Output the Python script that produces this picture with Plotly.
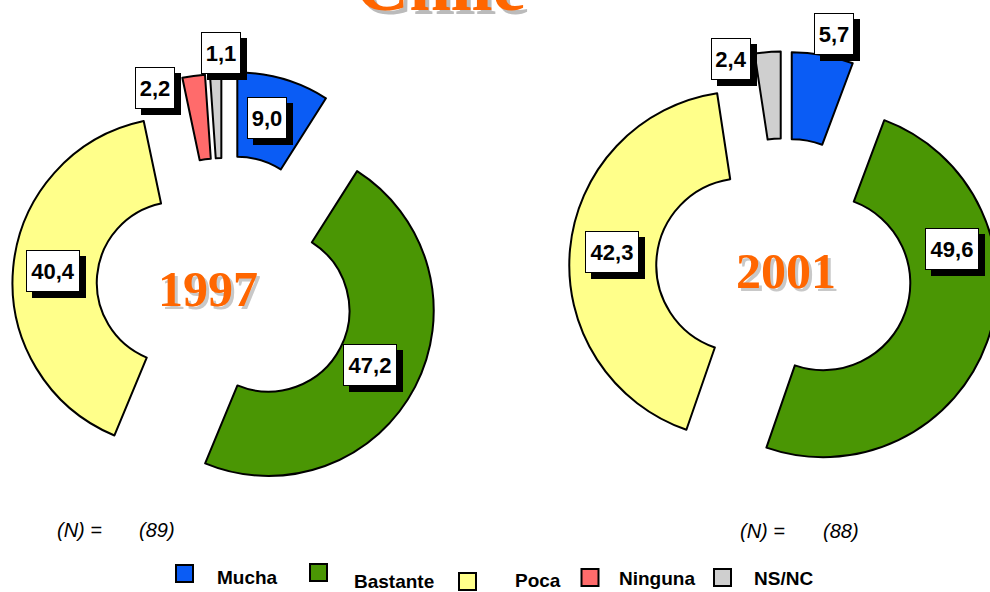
import math
import plotly.graph_objects as go

# categories and series
labels = ["Mucha", "Bastante", "Poca", "Ninguna", "NS/NC"]
values_1997 = [9.0, 47.2, 40.4, 2.2, 1.1]
values_2001 = [5.7, 49.6, 42.3, 0.0, 2.4]
n_1997 = 89
n_2001 = 88
title_text = "Chile"

colors = ["#0A5CF5", "#4A9604", "#FFFF8A", "#FF6B6B", "#CFCFCF"]

# figure is a bit wider than the 990px window; the right part is cut like the original
W, H = 1010, 592


def px_x(x):
    return x / W


def px_y(y):
    return 1 - y / H


# layout of each donut (pixel centre, half box, pulls) and label placement
pies = [
    dict(year="1997", values=values_1997, n=n_1997, cx=223, cy=287, half=216.5, hole=0.49,
         pull=[0.31, 0.31, 0.275, 0.29, 0.29],
         lab_rf=[1.054, 1.008, 1.036, 1.275, 1.416], lab_da=[-1.68, 0.42, 0.04, -11.03, 1.49],
         year_xy=(208, 289), n_xy=[(79, 530), (157, 530)]),
    dict(year="2001", values=values_2001, n=n_2001, cx=784, cy=269, half=217.5, hole=0.5,
         pull=[0.25, 0.24, 0.235, 0.0, 0.25],
         lab_rf=[1.38, 0.974, 0.995, None, 1.247], lab_da=[1.74, -26.66, 0.25, None, -9.74],
         year_xy=(786, 271), n_xy=[(762, 531), (841, 531)]),
]

fig = go.Figure()
annotations = []

lab_font = dict(family="Liberation Sans, Arial", size=22, color="black", weight="bold")

for p in pies:
    keep = [i for i, v in enumerate(p["values"]) if v > 0]
    vals = [p["values"][i] for i in keep]
    pulls = [p["pull"][i] for i in keep]
    fig.add_trace(go.Pie(
        labels=[labels[i] for i in keep],
        values=vals,
        marker=dict(colors=[colors[i] for i in keep], line=dict(color="black", width=2)),
        hole=p["hole"],
        pull=pulls,
        sort=False,
        direction="clockwise",
        rotation=0,
        textinfo="none",
        hoverinfo="label+value",
        showlegend=False,
        domain=dict(x=[max(0, px_x(p["cx"] - p["half"])), min(1, px_x(p["cx"] + p["half"]))],
                    y=[max(0, px_y(p["cy"] + p["half"])), min(1, px_y(p["cy"] - p["half"]))]),
    ))

    # value labels in boxes with a drop shadow
    r = p["half"] / (1 + max(pulls))
    total = sum(vals)
    start = 0
    for i in keep:
        v = p["values"][i]
        span = v / total * 360
        mid = start + span / 2
        start += span
        ang = math.radians(mid + p["lab_da"][i])
        dist = p["lab_rf"][i] * r
        x = p["cx"] + dist * math.sin(ang)
        y = p["cy"] - dist * math.cos(ang)
        txt = f"{v:.1f}".replace(".", ",")
        w = 14 * len(txt) - 4
        for shadow in (True, False):
            annotations.append(dict(
                x=px_x(x), y=px_y(y), xref="paper", yref="paper", text=txt, showarrow=False,
                xanchor="center", yanchor="middle",
                font=lab_font, bgcolor="black" if shadow else "white",
                bordercolor="black", borderwidth=1, borderpad=0, width=w, height=40,
                xshift=6 if shadow else 0, yshift=-6 if shadow else 0,
            ))

    # year in the hole
    yx, yy = p["year_xy"]
    for shadow in (True, False):
        annotations.append(dict(
            x=px_x(yx), y=px_y(yy), xref="paper", yref="paper", text=p["year"], showarrow=False,
            xanchor="center", yanchor="middle",
            font=dict(family="Liberation Serif, Times New Roman", size=50, weight="bold",
                      color="#C8C8C8" if shadow else "#FF6600"),
            xshift=3 if shadow else 0, yshift=-3 if shadow else 0,
        ))

    # sample size
    for (nx, ny), txt in zip(p["n_xy"], ["(N) =", f"({p['n']})"]):
        annotations.append(dict(
            x=px_x(nx), y=px_y(ny), xref="paper", yref="paper", text=txt, showarrow=False,
            xanchor="center", yanchor="middle",
            font=dict(family="Liberation Sans, Arial", size=20, color="black", style="italic"),
        ))

# title, only its lower part is visible
for shadow in (True, False):
    annotations.append(dict(
        x=px_x(440), y=px_y(28), xref="paper", yref="paper", text=title_text, showarrow=False,
        xanchor="center", yanchor="bottom",
        font=dict(family="Liberation Serif, Times New Roman", size=75, weight="bold",
                  color="#BBBBBB" if shadow else "#FF6600"),
        xshift=4 if shadow else 0, yshift=-4 if shadow else 0,
    ))

# custom legend
leg_sq = [(184.5, 573.5), (318.5, 572.5), (467.5, 581.5), (590, 577.5), (722.5, 577.5)]
leg_tx = [(215, 577), (352, 581), (513, 580), (617, 578), (752, 578)]
shapes = []
for i, lab in enumerate(labels):
    sx, sy = leg_sq[i]
    shapes.append(dict(type="rect", xref="paper", yref="paper",
                       x0=px_x(sx - 8.5), x1=px_x(sx + 8.5), y0=px_y(sy + 8.5), y1=px_y(sy - 8.5),
                       fillcolor=colors[i], line=dict(color="black", width=2)))
    tx, ty = leg_tx[i]
    annotations.append(dict(
        x=px_x(tx), y=px_y(ty), xref="paper", yref="paper", text=lab, showarrow=False,
        xanchor="left", yanchor="middle",
        font=dict(family="Liberation Sans, Arial", size=19, color="black", weight="bold"),
    ))

fig.update_layout(
    width=W, height=H,
    margin=dict(l=0, r=0, t=0, b=0),
    paper_bgcolor="white", plot_bgcolor="white",
    annotations=annotations,
    shapes=shapes,
)

fig.write_html("out.html", config={"displayModeBar": False},
               post_script="document.body.style.margin='0';document.body.style.overflow='hidden';")
